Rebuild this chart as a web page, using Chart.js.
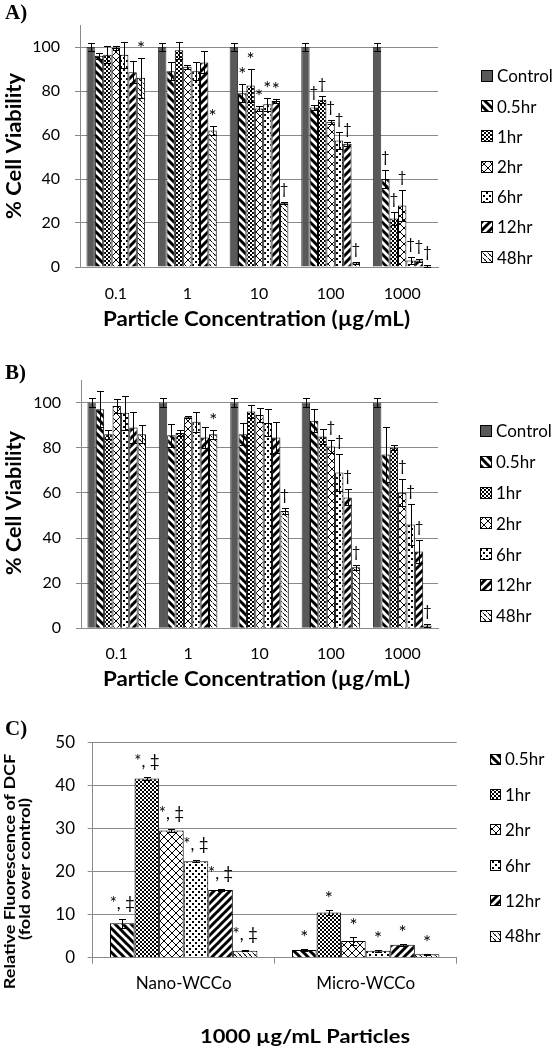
<!DOCTYPE html>
<html><head><meta charset="utf-8">
<script src="https://cdn.jsdelivr.net/npm/chart.js@4.4.0/dist/chart.umd.min.js"></script>
<style>
html,body{margin:0;padding:0;background:#fff;}
#wrap{position:relative;width:557px;height:1050px;overflow:hidden;background:#fff;}
canvas{position:absolute;left:0;}
</style></head><body>
<div id="wrap">
<canvas id="cA" width="557" height="345" style="top:0px"></canvas>
<canvas id="cB" width="557" height="360" style="top:345px"></canvas>
<canvas id="cC" width="557" height="345" style="top:705px"></canvas>
</div>
<script>
// ---------------- DATA ----------------
const concLabels = ['0.1', '1', '10', '100', '1000'];
const seriesNames = ['Control', '0.5hr', '1hr', '2hr', '6hr', '12hr', '48hr'];
const timeNames = ['0.5hr', '1hr', '2hr', '6hr', '12hr', '48hr'];
const yTicksAB = [0, 20, 40, 60, 80, 100];
const yTicksC = [0, 10, 20, 30, 40, 50];

// Panel A values (% cell viability)
const aControl = [100, 100, 100, 100, 100];
const aHr05 = [96, 89, 79, 72.5, 40];
const aHr1  = [96.5, 98.5, 82.5, 76, 22];
const aHr2  = [99.5, 91, 72, 66, 28];
const aHr6  = [96.5, 89, 74, 57.5, 3];
const aHr12 = [88.5, 93, 75.5, 56, 3];
const aHr48 = [86, 62, 29, 2, 0.4];
// Panel A error bars
const aErrControl = [2, 2, 2, 2, 2];
const aErr05 = [1.5, 4, 4, 1, 4];
const aErr1  = [4, 4, 7.5, 1.5, 3];
const aErr2  = [1, 1, 1, 1, 7];
const aErr6  = [6, 4, 3, 4, 1.5];
const aErr12 = [5, 5, 1, 1, 0.5];
const aErr48 = [9, 2, 0.5, 0.5, 0.3];
// Panel A significance marks
const aMarkControl = ['', '', '', '', ''];
const aMark05 = ['', '', '*', '†', '†'];
const aMark1  = ['', '', '*', '†', '†'];
const aMark2  = ['', '', '*', '†', '†'];
const aMark6  = ['', '', '*', '†', '†'];
const aMark12 = ['', '', '*', '†', '†'];
const aMark48 = ['*', '*', '†', '†', '†'];

// Panel B values
const bControl = [100, 100, 100, 100, 100];
const bHr05 = [97, 85.5, 86, 92, 77];
const bHr1  = [86, 86.5, 96, 85, 80];
const bHr2  = [98.5, 93.5, 94.5, 80.5, 60];
const bHr6  = [95.5, 91.5, 91, 69, 46];
const bHr12 = [89, 84.5, 84.5, 58, 34];
const bHr48 = [86, 86, 52, 27, 1.2];
// Panel B error bars
const bErrControl = [2, 2, 2, 2, 2];
const bErr05 = [8, 5, 5, 5, 12];
const bErr1  = [2, 1.5, 3, 3.5, 1];
const bErr2  = [3, 0.5, 3, 3, 6];
const bErr6  = [7.5, 4.5, 6, 8, 9];
const bErr12 = [7, 4.5, 7, 3.5, 5];
const bErr48 = [4, 2, 1.5, 1, 0.5];
// Panel B marks
const bMarkControl = ['', '', '', '', ''];
const bMark05 = ['', '', '', '', ''];
const bMark1  = ['', '', '', '', ''];
const bMark2  = ['', '', '', '†', '†'];
const bMark6  = ['', '', '', '†', '†'];
const bMark12 = ['', '', '', '†', '†'];
const bMark48 = ['', '*', '†', '†', '†'];

// Panel C values (relative fluorescence of DCF)
const particleLabels = ['Nano-WCCo', 'Micro-WCCo'];
const cHr05 = [8, 1.8];
const cHr1  = [41.6, 10.5];
const cHr2  = [29.5, 3.9];
const cHr6  = [22.4, 1.6];
const cHr12 = [15.7, 3];
const cHr48 = [1.6, 0.8];
const cErr05 = [1, 0.2];
const cErr1  = [0.4, 0.5];
const cErr2  = [0.3, 0.9];
const cErr6  = [0.2, 0.2];
const cErr12 = [0.3, 0.2];
const cErr48 = [0.1, 0.1];
const cMark05 = ['*, ‡', '*'];
const cMark1  = ['*, ‡', '*'];
const cMark2  = ['*, ‡', '*'];
const cMark6  = ['*, ‡', '*'];
const cMark12 = ['*, ‡', '*'];
const cMark48 = ['*, ‡', '*'];

// ---------------- STYLE ----------------
const FONT = 'Lato, "Open Sans", sans-serif';
const SERIF = '"Liberation Serif", "DejaVu Serif", serif';
const GRID = '#8a8a8a';

function tile(w, h, draw) {
  const c = document.createElement('canvas');
  c.width = w; c.height = h;
  const g = c.getContext('2d');
  g.fillStyle = '#fff'; g.fillRect(0, 0, w, h);
  g.fillStyle = '#000'; g.strokeStyle = '#000';
  draw(g, w, h);
  return g.createPattern(c, 'repeat');
}
const P = {
  p05: tile(8, 8, g => { g.lineWidth = 3; g.beginPath(); for (let o = -8; o <= 8; o += 8) { g.moveTo(o - 1, -1); g.lineTo(o + 9, 9); } g.stroke(); }),
  p1: tile(4, 4, g => { g.fillRect(0, 0, 2, 2); g.fillRect(2, 2, 2, 2); }),
  p2: tile(8, 8, g => { for (let i = 0; i < 8; i++) { g.fillRect(i, i, 1, 1); g.fillRect(7 - i, i, 1, 1); } }),
  p6: tile(6, 6, g => { g.fillRect(0, 0, 2, 2); g.fillRect(3, 3, 2, 2); }),
  p12: tile(8, 8, g => { g.lineWidth = 3; g.beginPath(); for (let o = -8; o <= 8; o += 8) { g.moveTo(o - 1, 9); g.lineTo(o + 9, -1); } g.stroke(); }),
  p48: tile(5, 5, g => { for (let i = 0; i < 5; i++) { g.fillRect(i, i, 1, 1); } g.fillStyle = '#999'; g.fillRect(4, 0, 1, 1); g.fillRect(0, 4, 1, 1); g.fillRect(2, 2, 1, 1); })
};
const fillsAB = ['#595959', P.p05, P.p1, P.p2, P.p6, P.p12, P.p48];
const bordersAB = ['#3a3a3a', '#000', '#000', '#000', '#000', '#000', '#000'];
const fillsC = [P.p05, P.p1, P.p2, P.p6, P.p12, P.p48];
const bordersC = ['#000', '#000', '#000', '#000', '#000', '#000'];

function drawFit(ctx, text, x, y, font, target, rot, align) {
  ctx.save();
  ctx.font = font;
  const w = ctx.measureText(text).width;
  let sx = target ? target / w : 1;
  sx = Math.max(0.85, Math.min(1.2, sx));
  ctx.translate(x, y);
  if (rot) ctx.rotate(rot);
  ctx.scale(sx, 1);
  ctx.textAlign = align || 'center';
  ctx.textBaseline = 'middle';
  ctx.fillStyle = '#000';
  ctx.fillText(text, 0, 0);
  ctx.restore();
}

function makeChart(id, cfg) {
  const canvas = document.getElementById(id);
  const datasets = cfg.values.map((vals, i) => ({
    label: cfg.names[i],
    data: vals,
    backgroundColor: cfg.fills[i],
    borderColor: cfg.borders[i],
    borderWidth: 1,
    categoryPercentage: cfg.catPct,
    barPercentage: 1.0
  }));
  const extras = {
    id: 'extras_' + id,
    afterDatasetsDraw(chart) {
      const ctx = chart.ctx, ys = chart.scales.y;
      ctx.save();
      ctx.strokeStyle = '#000';
      ctx.lineWidth = 1;
      cfg.values.forEach((vals, di) => {
        const meta = chart.getDatasetMeta(di);
        meta.data.forEach((bar, j) => {
          const v = vals[j], e = cfg.errors[di][j];
          const x = Math.round(bar.x) + 0.5;
          const capY = ys.getPixelForValue(v + e);
          if (e > 0) {
            const y1 = Math.round(capY) + 0.5;
            const y2 = Math.round(ys.getPixelForValue(Math.max(0, v - e))) + 0.5;
            const h = cfg.capHalf;
            ctx.beginPath();
            ctx.moveTo(x, y1); ctx.lineTo(x, y2);
            ctx.moveTo(x - h, y1); ctx.lineTo(x + h, y1);
            ctx.moveTo(x - h, y2); ctx.lineTo(x + h, y2);
            ctx.stroke();
          }
          const m = cfg.marks[di][j];
          if (m) {
            const dag = /[†‡]/.test(m);
            ctx.font = dag ? cfg.dagFont : cfg.starFont;
            ctx.fillStyle = '#000';
            ctx.textAlign = 'center';
            ctx.textBaseline = 'alphabetic';
            ctx.fillText(m, bar.x, capY - (dag ? cfg.dagOff : cfg.starOff));
          }
        });
      });
      ctx.restore();
    },
    afterDraw(chart) {
      const ctx = chart.ctx;
      const L = cfg.legend;
      ctx.save();
      cfg.names.forEach((n, i) => {
        const cy = L.y0 + i * L.dy;
        const top = Math.round(cy - L.box / 2);
        ctx.fillStyle = cfg.fills[i];
        ctx.fillRect(L.boxX, top, L.box, L.box);
        ctx.strokeStyle = '#000';
        ctx.lineWidth = 1;
        ctx.strokeRect(L.boxX + 0.5, top + 0.5, L.box - 1, L.box - 1);
        ctx.fillStyle = '#000';
        ctx.font = L.font;
        ctx.textAlign = 'left';
        ctx.textBaseline = 'middle';
        ctx.fillText(n, L.textX, cy + 1);
      });
      ctx.restore();
      cfg.titles.forEach(t => drawFit(ctx, t.text, t.x, t.y, t.font, t.w, t.rot, t.align));
    }
  };
  return new Chart(canvas, {
    type: 'bar',
    data: { labels: cfg.labels, datasets },
    options: {
      responsive: false,
      animation: false,
      events: [],
      layout: { padding: cfg.padding },
      plugins: { legend: { display: false }, tooltip: { enabled: false }, title: { display: false } },
      scales: {
        x: {
          grid: { display: cfg.xMarks, drawOnChartArea: false, drawTicks: cfg.xMarks, tickLength: 6, color: GRID, offset: true },
          border: { display: true, color: GRID, width: 1 },
          ticks: { font: { family: FONT, size: cfg.xFont }, color: '#000', padding: cfg.xPad, maxRotation: 0, autoSkip: false },
          afterFit(s) { s.height = cfg.xHeight; }
        },
        y: {
          min: 0,
          max: cfg.yMax,
          ticks: { stepSize: cfg.yStep, font: { family: FONT, size: cfg.yFont }, color: '#000', padding: cfg.yPad },
          grid: { color: GRID, tickLength: 5, drawTicks: true, tickColor: GRID },
          border: { display: true, color: GRID, width: 1 },
          afterBuildTicks(s) { s.ticks = cfg.yTicks.map(v => ({ value: v })); },
          afterFit(s) { s.width = cfg.yWidth; }
        }
      }
    },
    plugins: [extras]
  });
}

const titleFontY = 'bold 21px ' + FONT;
const titleFontX = 'bold 20px ' + FONT;
const panelFont = 'bold 21px ' + SERIF;

makeChart('cA', {
  labels: concLabels, names: seriesNames, fills: fillsAB, borders: bordersAB,
  values: [aControl, aHr05, aHr1, aHr2, aHr6, aHr12, aHr48],
  errors: [aErrControl, aErr05, aErr1, aErr2, aErr6, aErr12, aErr48],
  marks: [aMarkControl, aMark05, aMark1, aMark2, aMark6, aMark12, aMark48],
  catPct: 0.82, yMax: 110, yStep: 20, yTicks: yTicksAB,
  padding: { top: 25, left: 0, right: 119, bottom: 0 },
  yWidth: 80, xHeight: 78, xFont: 16, xPad: 17, yFont: 16, yPad: 15, xMarks: false,
  capHalf: 3.5, starFont: '19px ' + FONT, dagFont: '15px ' + FONT, starOff: 3, dagOff: 8,
  legend: { boxX: 481, box: 12, textX: 497, y0: 76, dy: 30.2, font: '17px ' + FONT },
  titles: [
    { text: '% Cell Viability', x: 14, y: 146, font: titleFontY, w: 146, rot: -Math.PI / 2 },
    { text: 'Particle Concentration (µg/mL)', x: 256.5, y: 320, font: titleFontX, w: 307 },
    { text: 'A)', x: 5, y: 14, font: panelFont, align: 'left' }
  ]
});

makeChart('cB', {
  labels: concLabels, names: seriesNames, fills: fillsAB, borders: bordersAB,
  values: [bControl, bHr05, bHr1, bHr2, bHr6, bHr12, bHr48],
  errors: [bErrControl, bErr05, bErr1, bErr2, bErr6, bErr12, bErr48],
  marks: [bMarkControl, bMark05, bMark1, bMark2, bMark6, bMark12, bMark48],
  catPct: 0.82, yMax: 110, yStep: 20, yTicks: yTicksAB,
  padding: { top: 35, left: 0, right: 119, bottom: 0 },
  yWidth: 81, xHeight: 76.7, xFont: 16, xPad: 15.5, yFont: 16, yPad: 15, xMarks: false,
  capHalf: 3.5, starFont: '19px ' + FONT, dagFont: '15px ' + FONT, starOff: 3, dagOff: 8,
  legend: { boxX: 480, box: 12, textX: 496, y0: 86, dy: 30.8, font: '17px ' + FONT },
  titles: [
    { text: '% Cell Viability', x: 14, y: 158, font: titleFontY, w: 144, rot: -Math.PI / 2 },
    { text: 'Particle Concentration (µg/mL)', x: 256.5, y: 335, font: titleFontX, w: 307 },
    { text: 'B)', x: 5, y: 28.5, font: panelFont, align: 'left' }
  ]
});

makeChart('cC', {
  labels: particleLabels, names: timeNames, fills: fillsC, borders: bordersC,
  values: [cHr05, cHr1, cHr2, cHr6, cHr12, cHr48],
  errors: [cErr05, cErr1, cErr2, cErr6, cErr12, cErr48],
  marks: [cMark05, cMark1, cMark2, cMark6, cMark12, cMark48],
  catPct: 0.81, yMax: 50, yStep: 10, yTicks: yTicksC,
  padding: { top: 37.3, left: 0, right: 100.3, bottom: 0 },
  yWidth: 92.7, xHeight: 92.3, xFont: 17, xPad: 9.5, yFont: 17, yPad: 12.7, xMarks: true,
  capHalf: 3.5, starFont: '19px ' + FONT, dagFont: '17px ' + FONT, starOff: 5, dagOff: 10,
  legend: { boxX: 490, box: 11, textX: 505, y0: 54, dy: 35.4, font: '17px ' + FONT },
  titles: [
    { text: 'Relative Fluorescence of DCF', x: 10, y: 166.5, font: 'bold 15px ' + FONT, w: 243, rot: -Math.PI / 2 },
    { text: '(fold over control)', x: 25.5, y: 164, font: 'bold 15px ' + FONT, w: 172, rot: -Math.PI / 2 },
    { text: '1000 µg/mL Particles', x: 305, y: 331.7, font: 'bold 19px ' + FONT, w: 210 },
    { text: 'C)', x: 5, y: 24.5, font: panelFont, align: 'left' }
  ]
});
</script>
</body></html>
